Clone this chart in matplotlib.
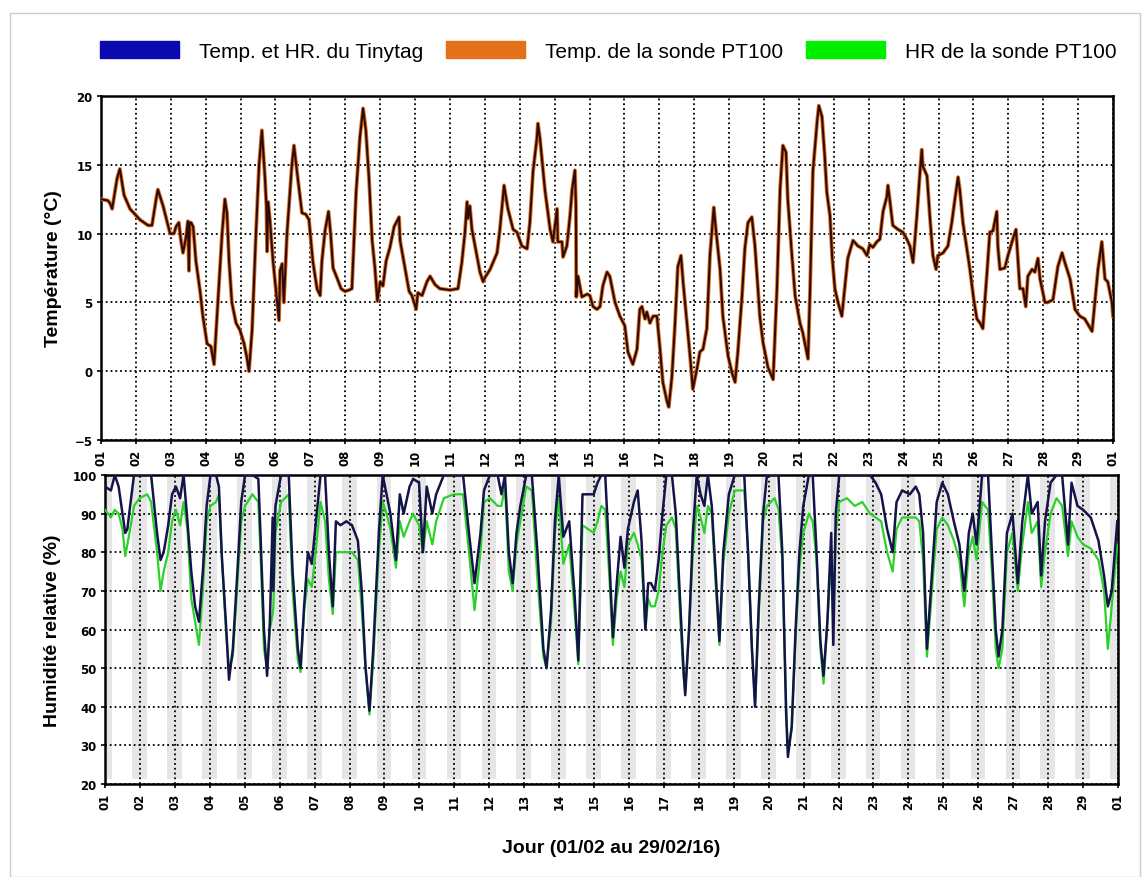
import matplotlib.pyplot as plt
from matplotlib.patches import Patch, Rectangle

# temperature readings (day since 01/02 00h, degC) - both sensors follow the same curve
temp_readings = [
    (0.00, 12.5), (0.20, 12.4), (0.26, 12.2), (0.32, 11.8), (0.46, 14.0), (0.54, 14.7), (0.66, 12.8), (0.83, 11.8),
    (1.12, 11.0), (1.35, 10.6), (1.46, 10.6), (1.58, 12.5), (1.63, 13.2), (1.78, 12.0), (1.86, 11.2), (1.98, 10.0),
    (2.09, 10.0), (2.15, 10.5), (2.23, 10.8), (2.29, 9.5), (2.35, 8.6), (2.44, 9.8), (2.49, 10.9), (2.52, 7.3),
    (2.54, 10.8), (2.58, 10.8), (2.64, 10.5), (2.72, 8.0), (2.84, 5.8), (2.92, 4.0), (3.04, 2.0), (3.15, 1.8),
    (3.24, 0.5), (3.35, 5.0), (3.47, 10.0), (3.55, 12.5), (3.61, 11.5), (3.67, 8.0), (3.75, 5.0), (3.87, 3.5),
    (3.98, 3.0), (4.10, 2.0), (4.18, 1.0), (4.24, 0.0), (4.33, 3.0), (4.44, 10.0), (4.53, 15.0), (4.61, 17.5),
    (4.70, 14.0), (4.74, 12.0), (4.76, 8.7), (4.79, 12.3), (4.84, 11.0), (4.93, 8.0), (4.99, 6.5), (5.10, 3.7),
    (5.13, 7.3), (5.19, 7.8), (5.24, 5.0), (5.33, 10.0), (5.47, 15.0), (5.53, 16.4), (5.64, 14.0), (5.76, 11.5),
    (5.87, 11.4), (5.96, 11.0), (6.07, 8.0), (6.19, 6.0), (6.28, 5.5), (6.33, 8.0), (6.42, 10.2), (6.52, 11.6),
    (6.58, 10.0), (6.65, 7.5), (6.76, 6.8), (6.88, 6.0), (6.99, 5.8), (7.11, 5.9), (7.19, 6.0), (7.31, 13.0),
    (7.42, 17.0), (7.51, 19.1), (7.59, 17.5), (7.68, 14.0), (7.77, 9.5), (7.85, 7.5), (7.92, 5.1), (8.00, 6.5),
    (8.08, 6.2), (8.17, 8.0), (8.28, 9.0), (8.40, 10.5), (8.54, 11.2), (8.57, 9.5), (8.71, 7.5), (8.83, 5.8),
    (8.91, 5.5), (9.03, 4.5), (9.08, 5.7), (9.20, 5.5), (9.34, 6.5), (9.43, 6.9), (9.57, 6.3), (9.71, 6.0),
    (10.00, 5.9), (10.23, 6.0), (10.34, 7.9), (10.43, 10.1), (10.49, 12.3), (10.52, 11.1), (10.57, 12.0), (10.63, 10.3),
    (10.77, 8.4), (10.86, 7.2), (10.95, 6.5), (11.00, 6.8), (11.15, 7.4), (11.35, 8.6), (11.43, 10.3), (11.55, 13.5),
    (11.66, 11.8), (11.81, 10.3), (11.92, 10.1), (12.06, 9.1), (12.21, 8.9), (12.29, 10.8), (12.38, 14.5), (12.49, 16.9),
    (12.52, 18.0), (12.58, 16.9), (12.72, 13.2), (12.87, 10.3), (12.95, 9.4), (13.07, 11.8), (13.09, 9.4), (13.21, 9.4),
    (13.24, 8.3), (13.35, 9.1), (13.44, 11.3), (13.50, 13.2), (13.58, 14.6), (13.61, 12.0), (13.62, 5.4), (13.67, 6.9),
    (13.78, 5.4), (13.93, 5.6), (14.01, 5.5), (14.10, 4.7), (14.21, 4.5), (14.30, 4.7), (14.38, 6.2), (14.50, 7.2),
    (14.58, 6.9), (14.73, 5.0), (14.87, 4.0), (15.01, 3.3), (15.10, 1.4), (15.24, 0.5), (15.36, 1.6), (15.44, 4.5),
    (15.50, 4.7), (15.59, 3.8), (15.64, 4.3), (15.73, 3.5), (15.82, 4.0), (15.93, 4.0), (16.02, 1.6), (16.10, -0.8),
    (16.22, -2.2), (16.27, -2.6), (16.36, -0.4), (16.45, 3.5), (16.53, 7.6), (16.62, 8.4), (16.68, 6.5), (16.79, 3.5),
    (16.88, 1.1), (16.96, -1.3), (17.08, 0.2), (17.16, 1.4), (17.25, 1.6), (17.36, 3.1), (17.45, 8.4), (17.54, 11.3),
    (17.56, 11.9), (17.62, 10.3), (17.74, 7.4), (17.82, 4.0), (17.97, 1.1), (18.08, -0.1), (18.17, -0.8), (18.25, 1.4),
    (18.37, 5.5), (18.45, 8.9), (18.54, 10.8), (18.65, 11.2), (18.74, 9.1), (18.88, 4.0), (18.97, 2.1), (19.11, 0.3),
    (19.26, -0.6), (19.37, 6.0), (19.46, 13.2), (19.54, 16.4), (19.63, 15.9), (19.68, 12.5), (19.80, 8.4), (19.89, 5.5),
    (20.03, 3.5), (20.11, 2.8), (20.26, 0.9), (20.32, 6.0), (20.40, 14.5), (20.52, 18.1), (20.57, 19.3), (20.66, 18.5),
    (20.74, 15.6), (20.80, 13.0), (20.89, 11.3), (20.95, 8.4), (21.03, 6.0), (21.12, 5.0), (21.23, 4.0), (21.32, 6.2),
    (21.40, 8.2), (21.55, 9.5), (21.69, 9.1), (21.83, 8.9), (21.95, 8.4), (22.03, 9.2), (22.12, 9.0), (22.23, 9.4),
    (22.32, 9.6), (22.41, 11.6), (22.52, 12.7), (22.55, 13.5), (22.61, 12.3), (22.69, 10.6), (22.84, 10.3), (22.98, 10.1),
    (23.09, 9.6), (23.18, 9.1), (23.27, 7.9), (23.38, 11.3), (23.47, 14.5), (23.52, 16.1), (23.55, 14.9), (23.67, 14.2),
    (23.75, 11.3), (23.84, 8.4), (23.93, 7.4), (23.98, 8.4), (24.13, 8.6), (24.27, 9.1), (24.38, 10.8), (24.47, 12.5),
    (24.56, 14.1), (24.61, 13.2), (24.70, 10.8), (24.81, 8.9), (24.90, 7.4), (25.01, 5.2), (25.10, 3.8), (25.19, 3.5),
    (25.27, 3.1), (25.39, 7.2), (25.47, 10.1), (25.56, 10.2), (25.67, 11.6), (25.70, 9.1), (25.76, 7.4), (25.90, 7.5),
    (25.99, 8.4), (26.13, 9.6), (26.22, 10.3), (26.27, 8.4), (26.33, 6.0), (26.42, 6.0), (26.50, 4.7), (26.56, 6.9),
    (26.68, 7.4), (26.76, 7.2), (26.85, 8.2), (26.91, 6.7), (27.05, 5.0), (27.13, 5.0), (27.28, 5.2), (27.42, 7.6),
    (27.54, 8.6), (27.62, 7.9), (27.77, 6.7), (27.91, 4.5), (28.05, 4.0), (28.19, 3.8), (28.40, 2.9), (28.48, 5.0),
    (28.57, 7.4), (28.68, 9.4), (28.77, 6.7), (28.85, 6.5), (28.97, 5.0), (29.00, 4.0),
]

# relative humidity (day, Tinytag %, PT100 %)
hr_readings = [
    (0.00, 97, 91), (0.17, 96, 89), (0.28, 100, 91), (0.39, 97, 90), (0.50, 90, 86), (0.58, 85, 79), (0.64, 86, 82),
    (0.72, 92, 86), (0.83, 100, 92), (0.99, 100, 94), (1.21, 100, 95), (1.32, 100, 93), (1.49, 85, 80), (1.59, 78, 70),
    (1.68, 80, 75), (1.81, 87, 80), (1.92, 95, 88), (2.03, 97, 91), (2.15, 94, 87), (2.25, 100, 93), (2.36, 88, 86),
    (2.47, 75, 68), (2.58, 66, 62), (2.69, 62, 56), (2.80, 75, 70), (2.91, 92, 88), (3.02, 100, 92), (3.18, 100, 93),
    (3.26, 97, 95), (3.35, 78, 78), (3.46, 62, 60), (3.55, 47, 50), (3.66, 55, 53), (3.79, 75, 72), (3.90, 93, 88),
    (4.01, 100, 92), (4.22, 100, 95), (4.39, 99, 93), (4.45, 85, 80), (4.55, 60, 55), (4.64, 48, 50), (4.72, 62, 60),
    (4.80, 89, 64), (4.82, 70, 66), (4.88, 92, 85), (5.04, 100, 93), (5.26, 100, 95), (5.37, 75, 70), (5.52, 55, 52),
    (5.60, 50, 49), (5.70, 66, 65), (5.81, 80, 73), (5.92, 77, 71), (6.03, 87, 80), (6.17, 100, 93), (6.30, 100, 88),
    (6.41, 80, 73), (6.52, 66, 64), (6.61, 88, 80), (6.74, 87, 80), (6.91, 88, 80), (7.07, 87, 80), (7.24, 83, 78),
    (7.35, 70, 65), (7.46, 50, 50), (7.57, 39, 38), (7.68, 55, 52), (7.84, 85, 80), (7.95, 100, 93), (8.06, 95, 90),
    (8.17, 90, 86), (8.33, 78, 76), (8.44, 95, 88), (8.55, 90, 84), (8.72, 97, 88), (8.82, 99, 90), (8.99, 98, 87),
    (9.10, 80, 80), (9.21, 97, 88), (9.37, 90, 82), (9.48, 95, 88), (9.70, 100, 94), (9.98, 100, 95), (10.25, 100, 95),
    (10.42, 85, 80), (10.58, 72, 65), (10.75, 85, 80), (10.85, 96, 93), (11.02, 100, 94), (11.24, 100, 92),
    (11.35, 95, 92), (11.45, 100, 97), (11.56, 80, 75), (11.67, 72, 70), (11.78, 85, 82), (11.89, 92, 88),
    (12.06, 100, 97), (12.22, 100, 96), (12.38, 80, 73), (12.55, 55, 53), (12.64, 50, 50), (12.77, 65, 62),
    (12.88, 88, 85), (12.99, 100, 94), (13.12, 84, 77), (13.29, 88, 82), (13.45, 68, 64), (13.55, 52, 51),
    (13.67, 95, 87), (13.83, 95, 86), (13.99, 95, 85), (14.10, 98, 88), (14.21, 100, 92), (14.32, 100, 91),
    (14.43, 80, 75), (14.54, 58, 56), (14.65, 72, 68), (14.76, 84, 75), (14.87, 76, 71), (14.97, 86, 82),
    (15.14, 93, 85), (15.25, 96, 82), (15.36, 83, 78), (15.47, 60, 60), (15.55, 72, 68), (15.63, 72, 66),
    (15.74, 70, 66), (15.85, 78, 70), (15.96, 90, 80), (16.07, 100, 87), (16.23, 100, 89), (16.34, 90, 86),
    (16.45, 70, 66), (16.56, 50, 48), (16.61, 43, 44), (16.72, 60, 60), (16.83, 85, 80), (16.94, 100, 92),
    (17.05, 95, 89), (17.16, 92, 85), (17.26, 100, 92), (17.37, 92, 90), (17.48, 75, 72), (17.59, 57, 56),
    (17.70, 80, 77), (17.86, 95, 90), (18.03, 100, 96), (18.30, 100, 96), (18.41, 80, 80), (18.52, 55, 55),
    (18.61, 40, 41), (18.71, 65, 62), (18.84, 90, 88), (18.95, 100, 92), (19.17, 100, 94), (19.28, 100, 91),
    (19.39, 80, 78), (19.50, 38, 40), (19.55, 27, 29), (19.66, 35, 34), (19.77, 60, 58), (19.88, 80, 76),
    (19.99, 92, 85), (20.15, 100, 90), (20.26, 100, 88), (20.37, 80, 78), (20.48, 57, 55), (20.57, 48, 46),
    (20.68, 62, 62), (20.79, 85, 78), (20.85, 56, 62), (20.92, 90, 85), (21.02, 100, 93), (21.24, 100, 94),
    (21.46, 100, 92), (21.68, 100, 93), (21.90, 100, 90), (22.06, 98, 89), (22.22, 95, 88), (22.39, 86, 80),
    (22.55, 80, 75), (22.66, 93, 86), (22.82, 96, 89), (23.04, 95, 89), (23.21, 97, 89), (23.31, 95, 88),
    (23.42, 85, 78), (23.53, 55, 53), (23.64, 70, 66), (23.81, 93, 86), (23.97, 98, 89), (24.13, 95, 87),
    (24.30, 88, 83), (24.46, 82, 78), (24.60, 70, 66), (24.73, 85, 80), (24.84, 90, 84), (24.95, 82, 78),
    (25.11, 100, 93), (25.28, 100, 91), (25.39, 80, 75), (25.50, 60, 55), (25.58, 53, 50), (25.69, 60, 55),
    (25.82, 85, 80), (25.98, 90, 85), (26.13, 72, 70), (26.26, 88, 82), (26.42, 100, 93), (26.53, 90, 85),
    (26.70, 93, 88), (26.80, 74, 71), (26.91, 88, 80), (27.07, 98, 90), (27.24, 100, 94), (27.40, 100, 92),
    (27.57, 82, 79), (27.67, 98, 88), (27.84, 92, 84), (28.00, 91, 82), (28.22, 89, 81), (28.44, 83, 78),
    (28.60, 74, 70), (28.71, 66, 55), (28.82, 70, 66), (28.98, 88, 82),
]

day_labels = ['%02d' % d for d in range(1, 30)] + ['01']
legend_labels = ['Temp. et HR. du Tinytag', 'Temp. de la sonde PT100', 'HR de la sonde PT100']

temp_days, temp_tinytag = zip(*temp_readings)
temp_pt100 = temp_tinytag
hr_days, hr_tinytag, hr_pt100 = zip(*hr_readings)

c_tiny = '#14144a'
c_pt_temp = '#e5701a'
c_pt_hr = '#2bd12b'

fig = plt.figure(figsize=(11.47, 8.78), dpi=100)

# light frame round the picture
fig.patches.append(Rectangle((10 / 1147, 0), 1130 / 1147, 1 - 14 / 878, transform=fig.transFigure,
                             fill=False, edgecolor='#cccccc', linewidth=1))

ax1 = fig.add_axes([101 / 1147, 1 - 441 / 878, 1012 / 1147, 344 / 878])
ax2 = fig.add_axes([105 / 1147, 1 - 785 / 878, 1013 / 1147, 309 / 878])

# temperature
ax1.plot(temp_days, temp_pt100, color=c_pt_temp, lw=2.8, zorder=3)
ax1.plot(temp_days, temp_tinytag, color='#2a0c10', lw=1.5, zorder=4)
ax1.set_ylim(-5, 20)
ax1.set_yticks([-5, 0, 5, 10, 15, 20])
ax1.set_ylabel('Température (°C)', fontsize=14, fontweight='bold', family='Liberation Sans', labelpad=9)

# humidity with night bands
for d in range(0, 30):
    ax2.axvspan(d - 0.22, d + 0.2, ymin=0.015, ymax=1, color='#e6e6e6', lw=0, zorder=0)
ax2.plot(hr_days, hr_pt100, color=c_pt_hr, lw=1.6, zorder=3)
ax2.plot(hr_days, hr_tinytag, color=c_tiny, lw=1.8, zorder=4)
ax2.set_ylim(20, 100)
ax2.set_yticks(range(20, 101, 10))
ax2.set_ylabel('Humidité relative (%)', fontsize=14, fontweight='bold', family='Liberation Sans', labelpad=8)
ax2.set_xlabel('Jour (01/02 au 29/02/16)', fontsize=14, fontweight='bold', family='Liberation Sans', labelpad=22)

for ax in (ax1, ax2):
    ax.set_xlim(0, 29)
    ax.set_xticks(range(0, 30))
    ax.set_xticklabels(day_labels, rotation=90)
    ax.grid(True, linestyle=':', color='black', linewidth=1.3, zorder=1)
    ax.set_axisbelow(False)
    for lab in ax.get_xticklabels() + ax.get_yticklabels():
        lab.set_fontweight('bold')
        lab.set_fontsize(8.5)
    ax.tick_params(length=3, width=1.2, pad=3)
    for s in ax.spines.values():
        s.set_linewidth(1.8)

handles = [Patch(color='#0a0ab0'), Patch(color=c_pt_temp), Patch(color='#00ee00')]
fig.legend(handles, legend_labels, loc='center', bbox_to_anchor=(0.5305, 0.9408), ncol=3, frameon=False,
           prop={'family': 'Liberation Sans', 'size': 15}, handlelength=3.8, handleheight=0.9,
           handletextpad=0.95, columnspacing=1.1)

fig.savefig('out.png', dpi=100)
